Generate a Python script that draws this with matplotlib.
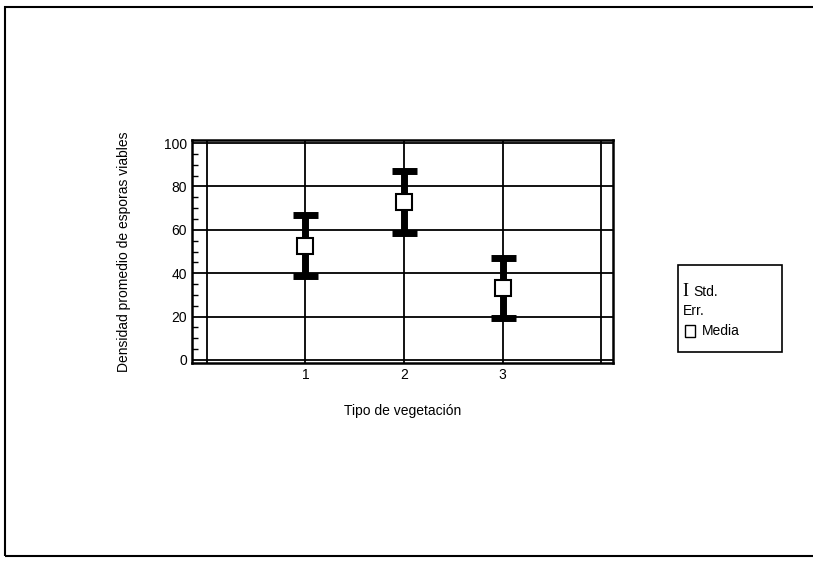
import matplotlib.pyplot as plt
from matplotlib.patches import Rectangle

plt.rcParams['font.family'] = ['Liberation Sans', 'DejaVu Sans']

# data
tipos = [1, 2, 3]
media = [52.7, 72.8, 33.2]
std_err = [14.0, 14.2, 14.0]

fig = plt.figure(figsize=(8.13, 5.61), dpi=100)
ax = fig.add_axes([192 / 813, 1 - 363 / 561, 421 / 813, 223 / 561])

ax.errorbar(tipos, media, yerr=std_err, fmt='none', ecolor='black',
            elinewidth=5, capsize=9, capthick=5, zorder=3)
ax.plot(tipos, media, 's', markersize=12, markerfacecolor='white',
        markeredgecolor='black', markeredgewidth=1.5, zorder=4)

ax.set_xlim(-0.15, 4.12)
ax.set_ylim(-1.4, 101.4)
ax.set_xticks([0, 1, 2, 3, 4])
ax.set_xticklabels(['', '1', '2', '3', ''])
ax.set_yticks([0, 20, 40, 60, 80, 100])
ax.set_yticks(range(0, 101, 5), minor=True)
ax.tick_params(axis='both', labelsize=10, length=0)
ax.tick_params(axis='y', which='minor', direction='in', length=4, width=1)
ax.grid(True, color='black', linewidth=1.3)
for s in ax.spines.values():
    s.set_linewidth(1.8)

ax.set_xlabel('Tipo de vegetación', fontsize=10, labelpad=16)
ax.set_ylabel('Densidad promedio de esporas viables', fontsize=10, labelpad=24)

# legend box drawn by hand
fig.patches.append(Rectangle((678 / 813, 1 - 352 / 561), 104 / 813, 87 / 561,
                             transform=fig.transFigure, fill=False,
                             edgecolor='black', linewidth=1.2))
fig.text(682 / 813, 1 - 291 / 561, 'I', family='Liberation Serif', fontsize=13,
         va='center')
fig.text(693 / 813, 1 - 292 / 561, 'Std.', fontsize=10, va='center')
fig.text(683 / 813, 1 - 311 / 561, 'Err.', fontsize=10, va='center')
fig.patches.append(Rectangle((685 / 813, 1 - 337 / 561), 10 / 813, 12 / 561,
                             transform=fig.transFigure, fill=False,
                             edgecolor='black', linewidth=1))
fig.text(702 / 813, 1 - 331 / 561, 'Media', fontsize=10, va='center')

# outer frame of the scanned page
fig.patches.append(Rectangle((5 / 813, 1 - 556 / 561), 820 / 813, 549 / 561,
                             transform=fig.transFigure, fill=False,
                             edgecolor='black', linewidth=1.5))

fig.savefig('out.png', dpi=100)
